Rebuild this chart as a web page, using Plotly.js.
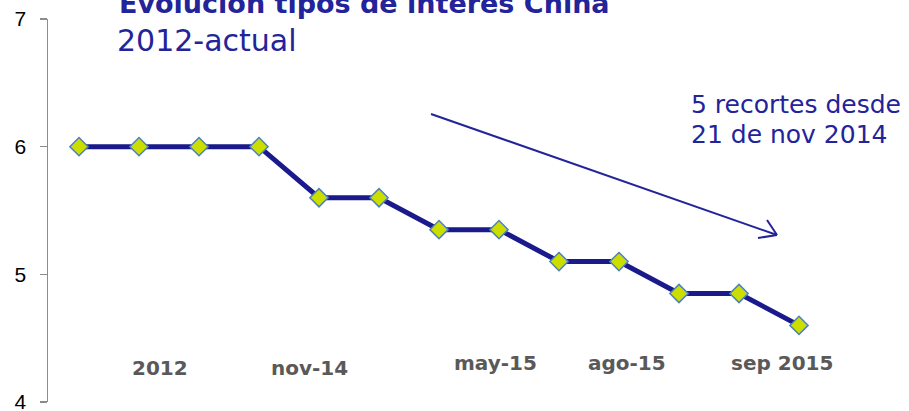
<!DOCTYPE html>
<html><head><meta charset="utf-8">
<script src="https://cdn.plot.ly/plotly-3.0.1.min.js"></script>
<style>html,body{margin:0;padding:0;background:#fff}#c{width:909px;height:411px}</style>
</head><body><div id="c"></div>
<script>
// Data
const periods = [0,1,2,3,4,5,6,7,8,9,10,11,12];
const rates = [6,6,6,6,5.6,5.6,5.35,5.35,5.1,5.1,4.85,4.85,4.6];
const dateLabels = ["2012","nov-14","may-15","ago-15","sep 2015"];
const yTicks = [4,5,6,7];

// layout constants
const W=909,H=411,ML=48,MR=50,MT=19,MB=9;
const PW=W-ML-MR, PH=H-MT-MB;
const px = x => (x-ML)/PW;
const py = y => (H-MB-y)/PH;
const labelPos = [[160,368],[309,368],[496,363],[627,363],[782,363]];
const navy = '#23239a';

const annotations = dateLabels.map((t,i)=>({
  text:'<b>'+t+'</b>', xref:'paper', yref:'paper', x:px(labelPos[i][0]), y:py(labelPos[i][1]),
  xanchor:'center', yanchor:'middle', showarrow:false,
  font:{family:'DejaVu Sans', size:20, color:'#595959'}
}));
annotations.push({
  text:'<b>Evolución tipos de interés China</b>', xref:'paper', yref:'paper',
  x:px(117), y:py(21), xanchor:'left', yanchor:'bottom', showarrow:false,
  font:{family:'DejaVu Sans', size:27, color:navy}
});
annotations.push({
  text:'2012-actual', xref:'paper', yref:'paper',
  x:px(115), y:py(41), xanchor:'left', yanchor:'middle', showarrow:false,
  font:{family:'DejaVu Sans', size:30, color:navy}
});
annotations.push({
  text:'5 recortes desde', xref:'paper', yref:'paper',
  x:px(689), y:py(104), xanchor:'left', yanchor:'middle', showarrow:false,
  font:{family:'DejaVu Sans', size:25, color:navy}
});
annotations.push({
  text:'21 de nov 2014', xref:'paper', yref:'paper',
  x:px(689), y:py(134), xanchor:'left', yanchor:'middle', showarrow:false,
  font:{family:'DejaVu Sans', size:25, color:navy}
});

const ln = (x0,y0,x1,y1)=>({type:'line',xref:'paper',yref:'paper',x0:px(x0),y0:py(y0),x1:px(x1),y1:py(y1),line:{color:navy,width:2}});
const shapes = [ln(431,114,777,235), ln(777,235,767,220), ln(777,235,758,238)];

Plotly.newPlot('c',[{
  x:periods, y:rates, type:'scatter', mode:'lines+markers',
  line:{color:'#1a1a8c', width:5},
  marker:{symbol:'diamond', size:14, color:'#ccdd00', line:{color:'#4f81bd', width:1.5}},
  hoverinfo:'skip'
}],{
  width:W,height:H,margin:{l:ML,r:MR,t:MT,b:MB},
  paper_bgcolor:'#fff',plot_bgcolor:'#fff',showlegend:false,
  xaxis:{range:[-0.5167,13],visible:false,fixedrange:true},
  yaxis:{range:[4,7],tickvals:yTicks,showgrid:false,zeroline:false,showline:true,linecolor:'#8c8c8c',linewidth:1.5,
    ticks:'outside',ticklen:7,tickcolor:'#8c8c8c',tickwidth:1.5,ticklabeloverflow:'allow',ticklabelstandoff:9,
    tickfont:{family:'Liberation Sans, Arial, sans-serif',size:21,color:'#000'}},
  annotations:annotations, shapes:shapes
},{staticPlot:true});
</script></body></html>
